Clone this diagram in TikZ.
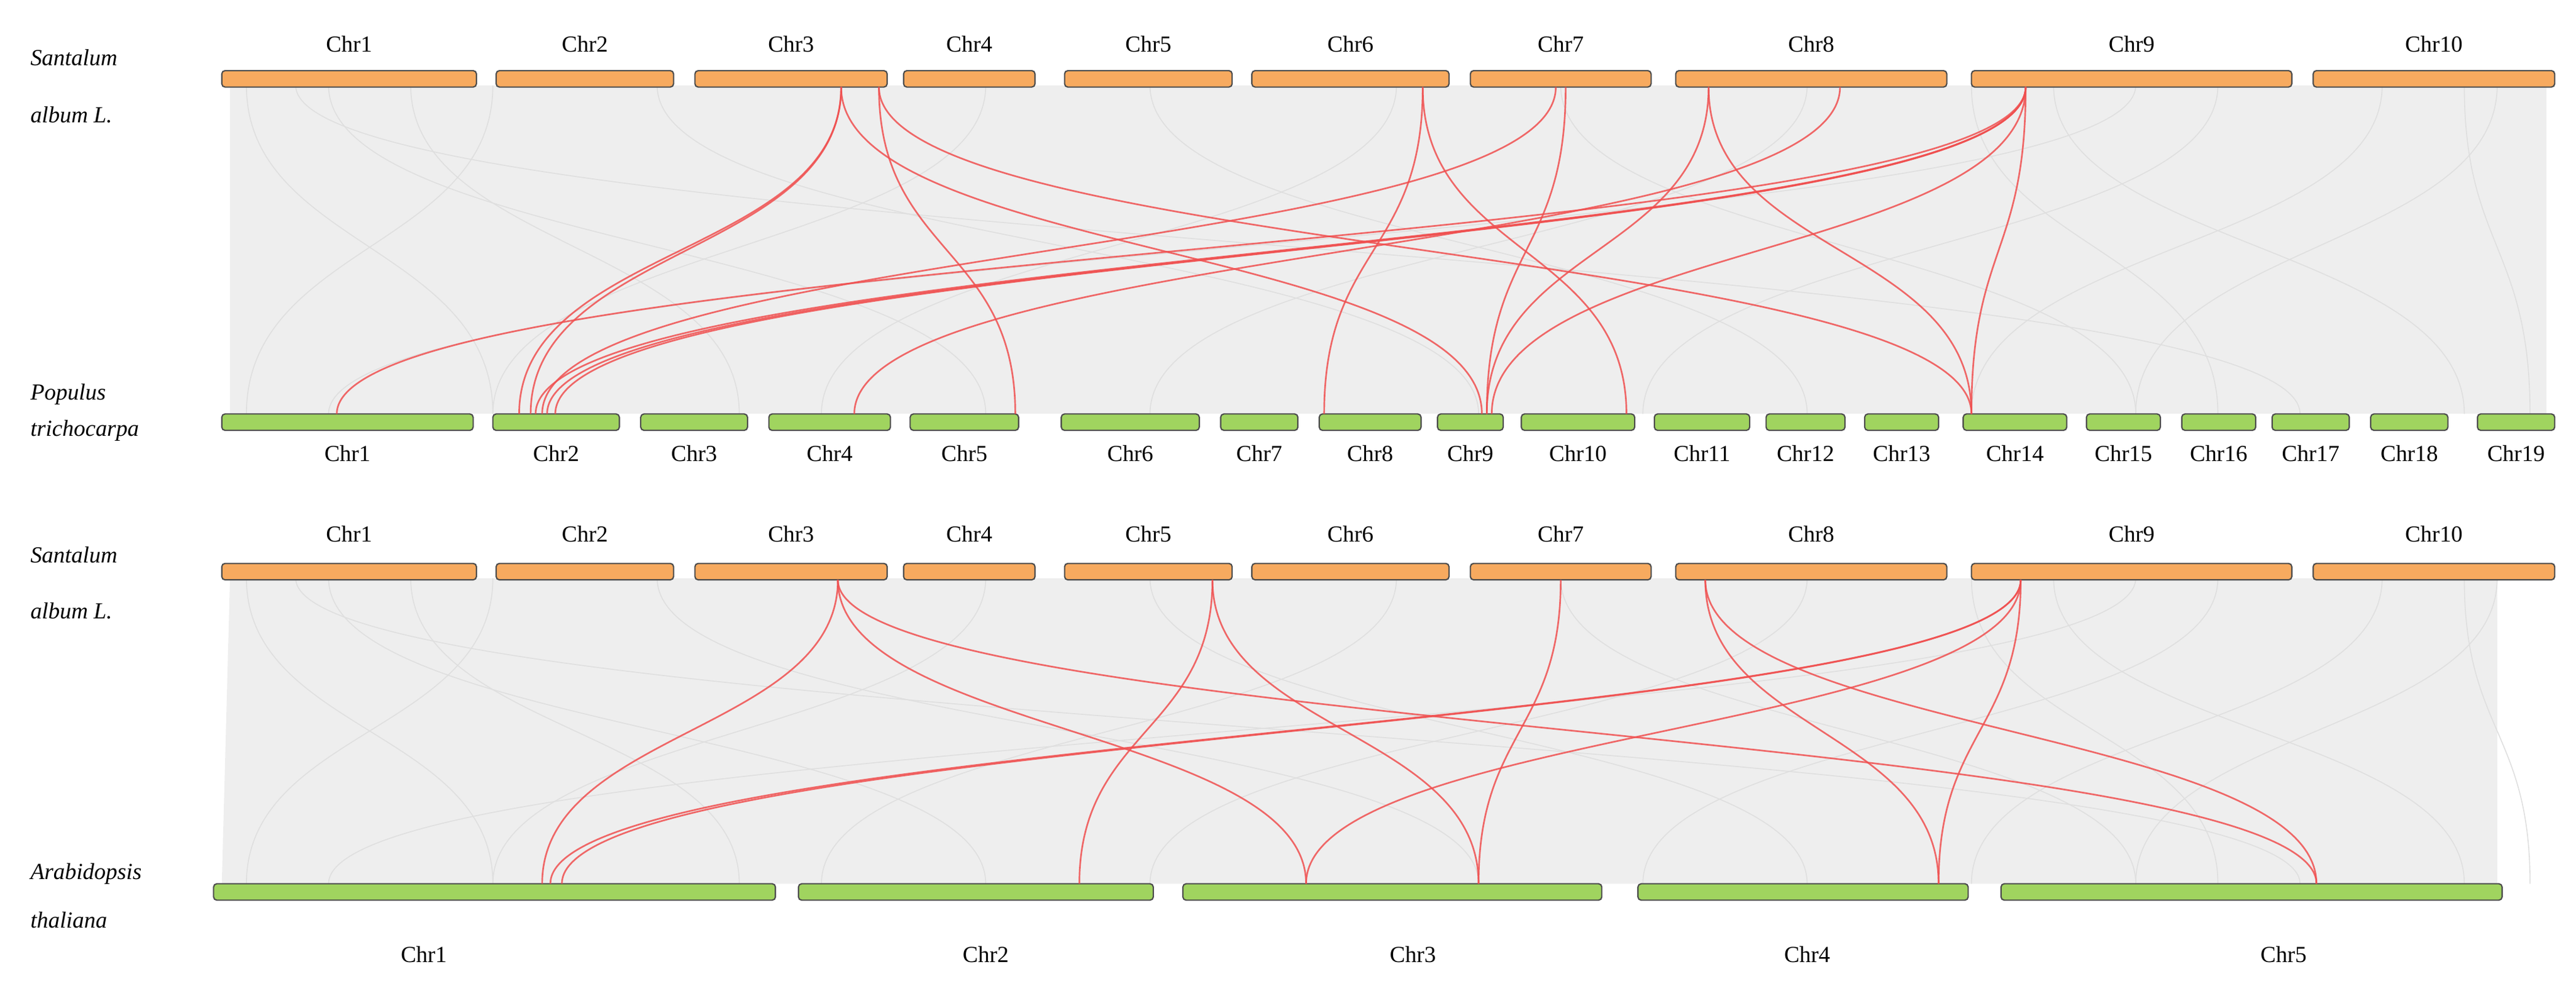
\documentclass[tikz,border=0pt]{standalone}
\usepackage{fontspec}
\setmainfont{Liberation Serif}
\definecolor{grn}{RGB}{160,212,95}
\definecolor{org}{RGB}{247,170,95}
\definecolor{lnk}{RGB}{240,80,80}
\begin{document}
\begin{tikzpicture}[x=1pt,y=-1pt,
 sa/.style={draw=black!70,fill=org,rounded corners=2pt,line width=0.8pt},
 pt/.style={draw=black!70,fill=grn,rounded corners=2pt,line width=0.8pt},
 lbl/.style={font=\fontsize{14}{16}\selectfont},
 sp/.style={font=\itshape\fontsize{14}{16}\selectfont,align=left,anchor=west},
 link/.style={draw=lnk,line width=1pt,opacity=0.85},
 bg/.style={draw=gray!25,line width=0.6pt}]
\useasboundingbox (0,0) rectangle (1568,600);
% background areas
\fill[gray!13] (140,52) -- (1550,52) -- (1550,252) -- (140,252) -- cycle;
\fill[gray!13] (140,352) -- (1520,352) -- (1520,538) -- (135,538) -- cycle;
\foreach \a/\b in {150/300,200/600,300/150,400/900,600/300,700/1100,850/500,950/1300,1100/700,1250/1500,1350/1000,1450/1200,1500/1540,180/1400,1300/200,250/450,1200/1350,1520/1300}{
 \draw[bg] (\a,52) .. controls (\a,150) and (\b,150) .. (\b,252);
 \draw[bg] (\a,352) .. controls (\a,445) and (\b,445) .. (\b,538);}
% species
\node[sp] (s1) at (15,35) {Santalum};
\node[sp] (s2) at (15,70) {album L.};
\node[sp] (p1) at (15,240) {Populus};
\node[sp] (p2) at (15,262) {trichocarpa};
\node[sp] (s3) at (15,338) {Santalum};
\node[sp] (s4) at (15,372) {album L.};
\node[sp] (a1) at (15,532) {Arabidopsis};
\node[sp] (a2) at (15,560) {thaliana};
% Santalum top and bottom
\foreach \n/\a/\b in {1/135/290,2/302/410,3/423/540,4/550/630,5/648/750,6/762/882,7/895/1005,8/1020/1185,9/1200/1395,10/1408/1555}{
 \draw[sa] (\a,43) rectangle (\b,53);
 \node[lbl] (t\n) at ({(\a+\b)/2},27) {Chr\n};
 \draw[sa] (\a,343) rectangle (\b,353);
 \node[lbl] (u\n) at ({(\a+\b)/2},325) {Chr\n};}
% Populus
\foreach \n/\a/\b in {1/135/288,2/300/377,3/390/455,4/468/542,5/554/620,6/646/730,7/743/790,8/803/865,9/875/915,10/926/995,11/1007/1065,12/1075/1123,13/1135/1180,14/1195/1258,15/1270/1315,16/1328/1373,17/1383/1430,18/1443/1490,19/1508/1555}{
 \draw[pt] (\a,252) rectangle (\b,262);
 \node[lbl] (q\n) at ({(\a+\b)/2},276) {Chr\n};}
% Arabidopsis
\foreach \n/\a/\b/\c in {1/130/472/258,2/486/702/600,3/720/975/860,4/997/1198/1100,5/1218/1523/1390}{
 \draw[pt] (\a,538) rectangle (\b,548);
 \node[lbl] (r\n) at (\c,581) {Chr\n};}
% top links
\foreach \a/\b in {512/316,512/323,512/902,535/618,535/1200,866/806,866/990,947/330,953/905,1040/905,1040/1200,1120/520,1233/205,1233/326,1233/333,1233/338,1233/908,1233/1200}{
 \draw[link] (\a,53) .. controls (\a,155) and (\b,150) .. (\b,252);}
% bottom links
\foreach \a/\b in {510/330,510/795,510/1410,738/657,738/900,950/900,1038/1180,1038/1410,1230/335,1230/342,1230/795,1230/1180}{
 \draw[link] (\a,353) .. controls (\a,445) and (\b,445) .. (\b,538);}
\end{tikzpicture}
\end{document}
